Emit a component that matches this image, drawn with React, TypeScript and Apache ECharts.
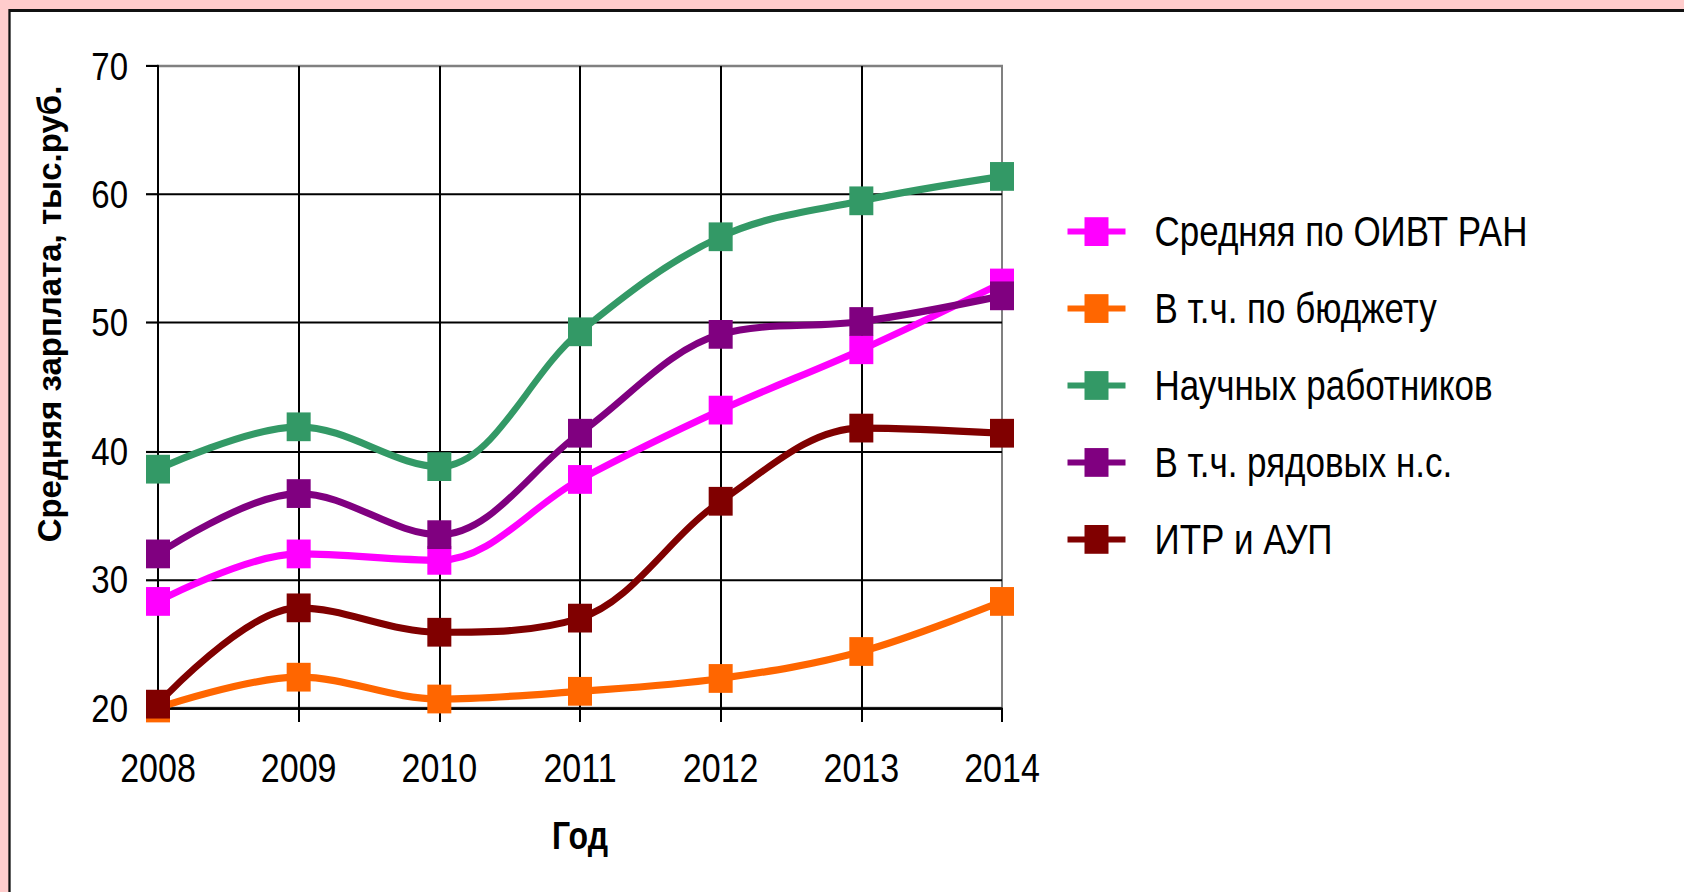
import React, { useEffect, useRef } from "react";
import * as echarts from "echarts";

const years = ["2008", "2009", "2010", "2011", "2012", "2013", "2014"];
const avgAll = [28.3, 32.0, 31.5, 37.8, 43.2, 47.9, 53.1];
const budget = [20.0, 22.4, 20.7, 21.3, 22.3, 24.4, 28.3];
const scientists = [38.6, 41.9, 38.8, 49.3, 56.7, 59.5, 61.4];
const ordinary = [32.0, 36.7, 33.5, 41.4, 49.1, 50.1, 52.1];
const engineers = [20.3, 27.8, 25.9, 27.0, 36.1, 41.8, 41.4];

const seriesNames = [
  "Средняя по ОИВТ РАН",
  "В т.ч. по бюджету",
  "Научных работников",
  "В т.ч. рядовых н.с.",
  "ИТР и АУП",
];
const seriesColors = ["#FF00FF", "#FF6600", "#339966", "#800080", "#800000"];
const yTicks = { min: 20, max: 70, interval: 10 };
const yTitle = "Средняя зарплата, тыс.руб.";
const xTitle = "Год";

const FONT = "'Liberation Sans', Arial, sans-serif";

// The reference picture is stretched vertically; reproduce it with a CSS scaleY.
const W = 1684;
const H_OUT = 892;
const H_IN = 744;
const S = H_OUT / H_IN;
const sy = (v: number) => v / S;

export default function App() {
  const ref = useRef<HTMLDivElement>(null);
  useEffect(() => {
    document.body.style.margin = "0";
    const chart = echarts.init(ref.current!, null, { renderer: "svg" });
    const values = [avgAll, budget, scientists, ordinary, engineers];
    const plotTop = sy(66);
    const plotBottom = sy(708);
    chart.setOption({
      animation: false,
      backgroundColor: "#FFCCCC",
      textStyle: { fontFamily: FONT },
      graphic: [
        {
          type: "rect",
          z: -10,
          shape: { x: 9.5, y: sy(10.5), width: 1700, height: 900 },
          style: { fill: "#FFFFFF", stroke: "#111111", lineWidth: 2.3 },
        },
        {
          type: "text",
          x: 49,
          y: sy(314),
          rotation: Math.PI / 2,
          scaleX: 1 / S,
          style: {
            text: yTitle,
            fontSize: 33,
            fontWeight: "bold",
            fontFamily: FONT,
            fill: "#000000",
            align: "center",
            verticalAlign: "middle",
          },
        },
      ],
      grid: {
        left: 158,
        right: W - 1002,
        top: plotTop,
        bottom: H_IN - plotBottom,
        show: true,
        borderColor: "#808080",
        borderWidth: 2,
        backgroundColor: "transparent",
      },
      legend: {
        orient: "vertical",
        left: 1065,
        top: sy(231) - 17,
        padding: 0,
        itemWidth: 58,
        itemHeight: 30,
        itemGap: (sy(534) - sy(231)) / 4 - 34,
        data: seriesNames,
        lineStyle: { width: 5 },
        textStyle: {
          fontSize: 35,
          lineHeight: 34,
          color: "#000000",
          fontFamily: FONT,
          padding: [0, 0, 0, 24],
        },
      },
      xAxis: {
        type: "category",
        data: years,
        boundaryGap: false,
        name: xTitle,
        nameLocation: "middle",
        nameGap: sy(816) - plotBottom,
        nameTextStyle: { fontSize: 32, fontWeight: "bold", color: "#000", fontFamily: FONT },
        axisLine: { lineStyle: { color: "#000", width: 1.8 } },
        axisTick: { show: true, length: sy(14), lineStyle: { color: "#000", width: 2 } },
        axisLabel: { fontSize: 34, color: "#000", margin: 33, fontFamily: FONT },
        splitLine: { show: true, showMaxLine: false, lineStyle: { color: "#000", width: 2 } },
      },
      yAxis: {
        type: "value",
        min: yTicks.min,
        max: yTicks.max,
        interval: yTicks.interval,
        axisLine: { show: true, lineStyle: { color: "#000", width: 2 } },
        axisTick: { show: true, length: 12, lineStyle: { color: "#000", width: 1.8 } },
        axisLabel: { fontSize: 33, color: "#000", margin: 30, fontFamily: FONT },
        splitLine: { show: true, showMaxLine: false, lineStyle: { color: "#000", width: 1.8 } },
      },
      series: seriesNames.map((name, i) => ({
        name,
        type: "line",
        data: values[i],
        smooth: 0.35,
        symbol: "rect",
        symbolSize: [24, 24],
        color: seriesColors[i],
        lineStyle: { width: 6, color: seriesColors[i] },
        itemStyle: { color: seriesColors[i] },
        z: 3 + i,
      })),
    });
    return () => chart.dispose();
  }, []);
  return (
    <div style={{ width: W, height: H_OUT, overflow: "hidden", background: "#FFCCCC" }}>
      <div
        ref={ref}
        style={{ width: W, height: H_IN, transform: `scaleY(${S})`, transformOrigin: "0 0" }}
      />
    </div>
  );
}
